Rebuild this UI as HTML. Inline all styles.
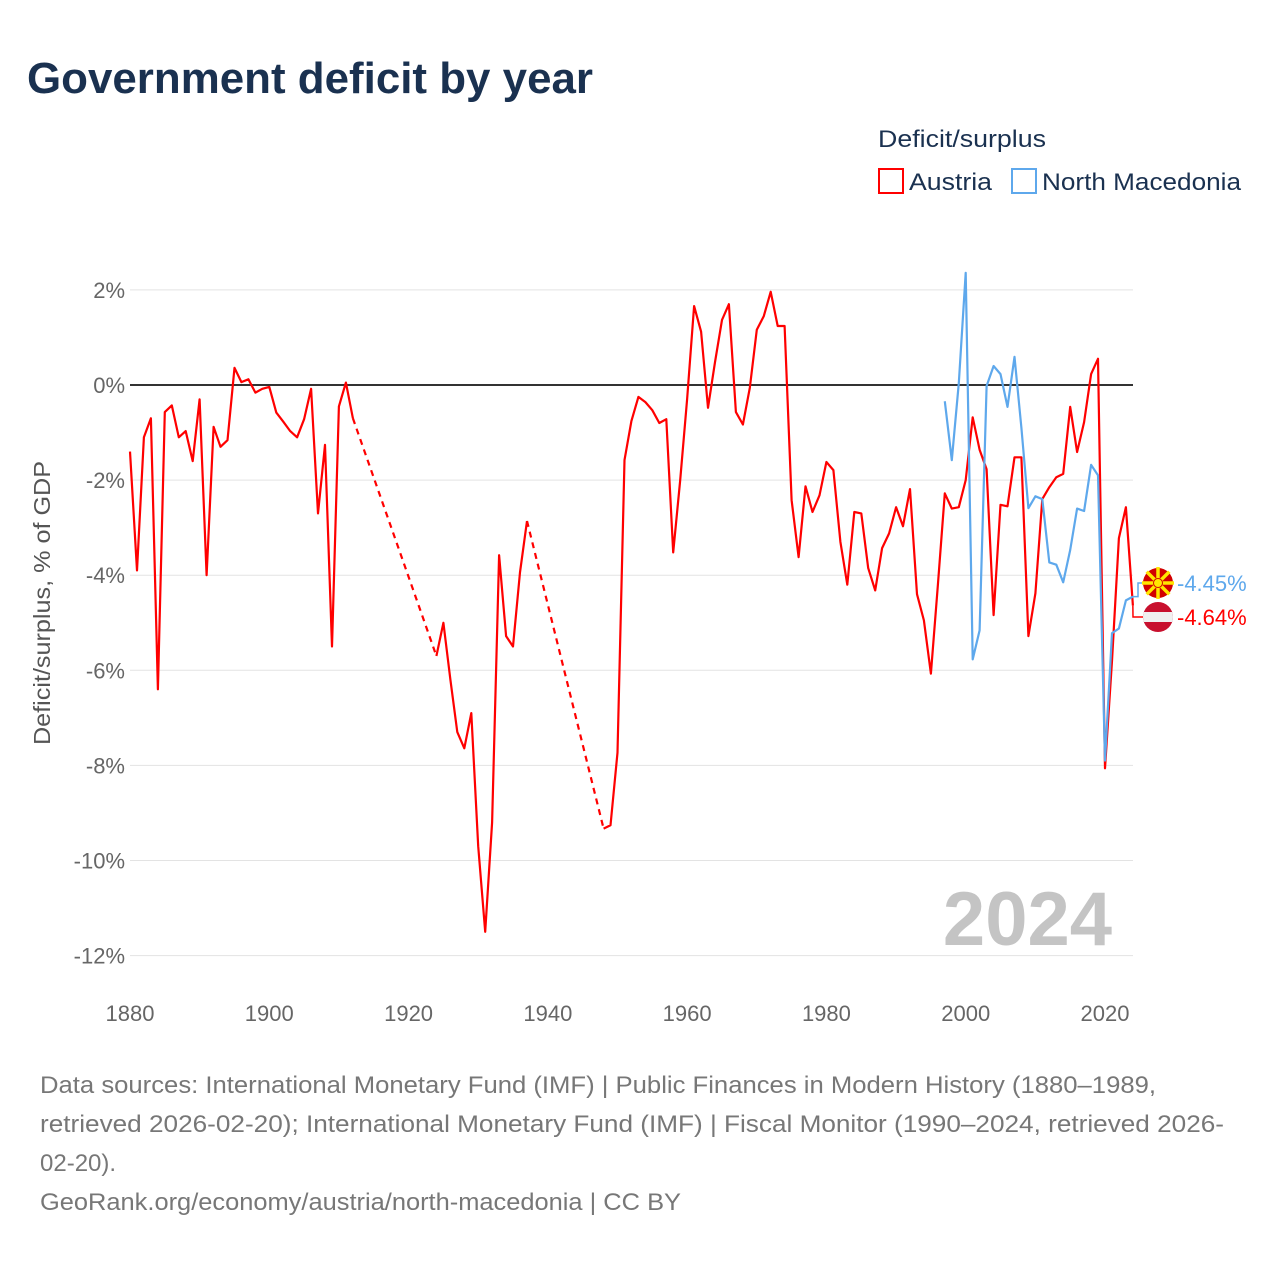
<!DOCTYPE html>
<html><head><meta charset="utf-8"><style>
body{margin:0;background:#fff;font-family:"Liberation Sans",sans-serif;}
svg{display:block}
</style></head><body>
<svg id="chart" width="1280" height="1280" viewBox="0 0 1280 1280" xmlns="http://www.w3.org/2000/svg" font-family="Liberation Sans, sans-serif">
<text x="27" y="93" font-size="44" font-weight="bold" fill="#1a3150" textLength="566" lengthAdjust="spacingAndGlyphs">Government deficit by year</text>
<text x="878" y="147" font-size="24" fill="#1a3150" textLength="168" lengthAdjust="spacingAndGlyphs">Deficit/surplus</text>
<g>
<rect x="879" y="169" width="24" height="24" fill="none" stroke="#ff0000" stroke-width="2"/>
<text x="909" y="190" font-size="24" fill="#1a3150" textLength="83" lengthAdjust="spacingAndGlyphs">Austria</text></g>
<g>
<rect x="1012" y="169" width="24" height="24" fill="none" stroke="#5ea8ec" stroke-width="2"/>
<text x="1042" y="190" font-size="24" fill="#1a3150" textLength="199" lengthAdjust="spacingAndGlyphs">North Macedonia</text></g>
<text transform="translate(50,603) rotate(-90)" text-anchor="middle" font-size="23" fill="#555" textLength="284" lengthAdjust="spacingAndGlyphs">Deficit/surplus, % of GDP</text>
<g id="grid"></g><g id="marks"></g>
<text x="1112" y="945" text-anchor="end" font-size="76" font-weight="bold" fill="#c4c4c4">2024</text>
<g font-size="24" fill="#777">
<text x="40" y="1093" textLength="1116" lengthAdjust="spacingAndGlyphs">Data sources: International Monetary Fund (IMF) | Public Finances in Modern History (1880–1989,</text>
<text x="40" y="1132" textLength="1184" lengthAdjust="spacingAndGlyphs">retrieved 2026-02-20); International Monetary Fund (IMF) | Fiscal Monitor (1990–2024, retrieved 2026-</text>
<text x="40" y="1171">02-20).</text>
<text x="40" y="1210" textLength="641" lengthAdjust="spacingAndGlyphs">GeoRank.org/economy/austria/north-macedonia | CC BY</text>
</g>
</svg>
<script>
const yTicks=[2,0,-2,-4,-6,-8,-10,-12];
const xTicks=[1880,1900,1920,1940,1960,1980,2000,2020];
const austriaYears=[1880,1881,1882,1883,1884,1885,1886,1887,1888,1889,1890,1891,1892,1893,1894,1895,1896,1897,1898,1899,1900,1901,1902,1903,1904,1905,1906,1907,1908,1909,1910,1911,1912,1924,1925,1926,1927,1928,1929,1930,1931,1932,1933,1934,1935,1936,1937,1948,1949,1950,1951,1952,1953,1954,1955,1956,1957,1958,1959,1960,1961,1962,1963,1964,1965,1966,1967,1968,1969,1970,1971,1972,1973,1974,1975,1976,1977,1978,1979,1980,1981,1982,1983,1984,1985,1986,1987,1988,1989,1990,1991,1992,1993,1994,1995,1996,1997,1998,1999,2000,2001,2002,2003,2004,2005,2006,2007,2008,2009,2010,2011,2012,2013,2014,2015,2016,2017,2018,2019,2020,2021,2022,2023,2024];
const austriaValues=[-1.4,-3.9,-1.1,-0.7,-6.4,-0.57,-0.43,-1.1,-0.97,-1.6,-0.3,-4.0,-0.88,-1.3,-1.16,0.36,0.06,0.12,-0.16,-0.08,-0.04,-0.58,-0.77,-0.97,-1.1,-0.72,-0.08,-2.7,-1.26,-5.5,-0.45,0.05,-0.7,-5.7,-5.0,-6.2,-7.3,-7.64,-6.9,-9.7,-11.5,-9.2,-3.58,-5.28,-5.5,-3.94,-2.86,-9.33,-9.26,-7.73,-1.58,-0.76,-0.25,-0.36,-0.53,-0.8,-0.72,-3.52,-2.0,-0.3,1.66,1.12,-0.48,0.48,1.37,1.7,-0.57,-0.83,-0.06,1.16,1.45,1.96,1.24,1.24,-2.42,-3.62,-2.13,-2.67,-2.32,-1.62,-1.79,-3.3,-4.2,-2.67,-2.7,-3.85,-4.32,-3.43,-3.12,-2.57,-2.97,-2.19,-4.4,-4.95,-6.07,-4.2,-2.28,-2.6,-2.57,-2.0,-0.68,-1.36,-1.77,-4.84,-2.52,-2.55,-1.52,-1.52,-5.28,-4.38,-2.4,-2.15,-1.94,-1.87,-0.46,-1.41,-0.78,0.23,0.55,-8.06,-5.8,-3.22,-2.57,-4.64];
const macedoniaYears=[1997,1998,1999,2000,2001,2002,2003,2004,2005,2006,2007,2008,2009,2010,2011,2012,2013,2014,2015,2016,2017,2018,2019,2020,2021,2022,2023,2024];
const macedoniaValues=[-0.34,-1.58,0.04,2.36,-5.77,-5.16,-0.02,0.4,0.23,-0.46,0.59,-0.9,-2.59,-2.34,-2.4,-3.73,-3.78,-4.15,-3.47,-2.6,-2.65,-1.68,-1.9,-7.9,-5.22,-5.12,-4.53,-4.45];
const NS="http://www.w3.org/2000/svg";
const X=y=>130+(y-1880)*975/140;
const Y=v=>385-v*47.55;
function mk(t,a,p){const e=document.createElementNS(NS,t);for(const k in a)e.setAttribute(k,a[k]);p.appendChild(e);return e;}
const grid=document.getElementById('grid'),marks=document.getElementById('marks');
yTicks.forEach(t=>{
 const l=mk('line',{x1:130,x2:1133,y1:Y(t),y2:Y(t),stroke:t===0?'#333':'#e3e3e3','stroke-width':t===0?2:1},grid);
 
 
 const tx=mk('text',{x:125,y:Y(t)+8,'text-anchor':'end','font-size':22,fill:'#666'},grid);
 tx.textContent=t+'%';
 
 
});
xTicks.forEach(t=>{
 const tx=mk('text',{x:X(t),y:1021,'text-anchor':'middle','font-size':22,fill:'#666'},grid);
 tx.textContent=t;
 
 
});
function series(yrs,vals,color,name){
 let solid='',dashed='';
 for(let i=0;i<yrs.length;i++){
  const p=X(yrs[i]).toFixed(1)+','+Y(vals[i]).toFixed(1);
  if(i===0||yrs[i]-yrs[i-1]>1){solid+=' M'+p;if(i>0)dashed+=' M'+X(yrs[i-1]).toFixed(1)+','+Y(vals[i-1]).toFixed(1)+' L'+p;}
  else solid+=' L'+p;
 }
 const a=mk('path',{d:solid,fill:'none',stroke:color,'stroke-width':2.2,'stroke-linejoin':'round'},marks);
 
 
 if(dashed){const b=mk('path',{d:dashed,fill:'none',stroke:color,'stroke-width':2.2,'stroke-dasharray':'6,5'},marks);
 
 }
}
series(austriaYears,austriaValues,'#ff0000','austria');
series(macedoniaYears,macedoniaValues,'#5ea8ec','north-macedonia');
// end labels
const mkY=583,atY=617,fx=1158;
const last=a=>a[a.length-1];
let c=mk('path',{d:`M${X(2024)},${Y(last(macedoniaValues))} L1138,${Y(last(macedoniaValues))} L1138,${mkY} L1143,${mkY}`,fill:'none',stroke:'#5ea8ec','stroke-width':1.5},marks);


c=mk('path',{d:`M${X(2024)},${Y(last(austriaValues))} L1133,${atY} L1143,${atY}`,fill:'none',stroke:'#ff0000','stroke-width':1.5},marks);


// MK flag
const g1=mk('g',{},marks);


mk('circle',{cx:fx,cy:mkY,r:15,fill:'#d20000'},g1);
for(let k=0;k<8;k++){const ang=k*Math.PI/4;mk('line',{x1:fx,y1:mkY,x2:fx+16*Math.cos(ang),y2:mkY+16*Math.sin(ang),stroke:'#ffe600','stroke-width':3.5},g1);}
mk('circle',{cx:fx,cy:mkY,r:4.5,fill:'#ffe600',stroke:'#d20000','stroke-width':1},g1);
// AT flag
const g2=mk('g',{},marks);


mk('clipPath',{id:'atc'},g2).appendChild((()=>{const e=document.createElementNS(NS,'circle');e.setAttribute('cx',fx);e.setAttribute('cy',atY);e.setAttribute('r',15);return e;})());
mk('rect',{x:fx-15,y:atY-15,width:30,height:30,fill:'#c8102e','clip-path':'url(#atc)'},g2);
mk('rect',{x:fx-15,y:atY-5,width:30,height:10,fill:'#f0f0f0','clip-path':'url(#atc)'},g2);
let t=mk('text',{x:1177,y:mkY+8,'font-size':22,fill:'#5ea8ec'},marks);t.textContent=last(macedoniaValues).toFixed(2)+'%';


t=mk('text',{x:1177,y:atY+8,'font-size':22,fill:'#ff0000'},marks);t.textContent=last(austriaValues).toFixed(2)+'%';


</script>
</body></html>
